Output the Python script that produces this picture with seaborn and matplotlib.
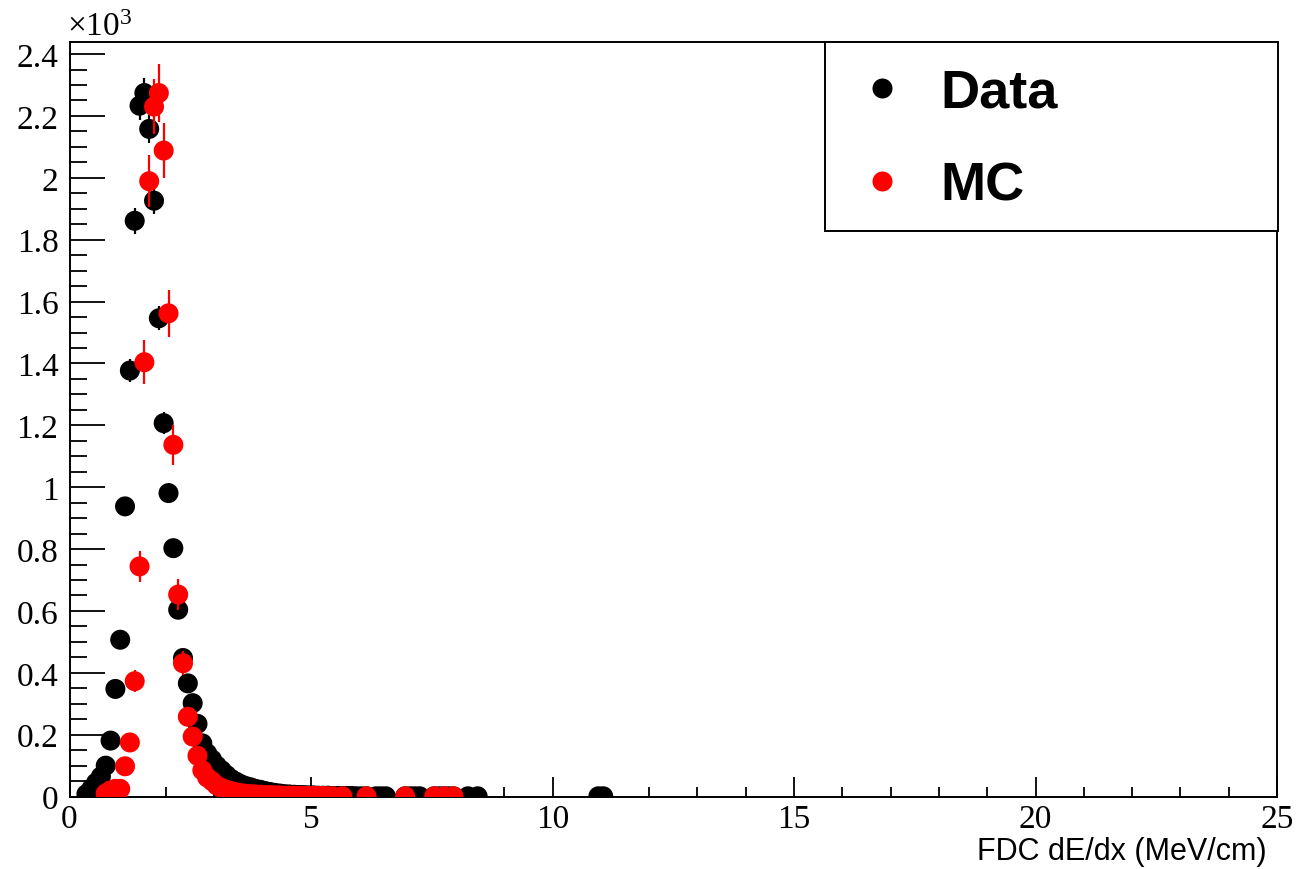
import numpy as np
import pandas as pd
import matplotlib
matplotlib.use("Agg")
import matplotlib.pyplot as plt
from matplotlib.ticker import MultipleLocator, FuncFormatter
from matplotlib.patches import Rectangle
from matplotlib.lines import Line2D
import seaborn as sns

# ---------------- data (counts in units of 10^3) ----------------
data_x = [0.35, 0.45, 0.55, 0.65, 0.75, 0.85, 0.95, 1.05, 1.15, 1.25,
          1.35, 1.45, 1.55, 1.65, 1.75, 1.85, 1.95, 2.05, 2.15, 2.25,
          2.35, 2.45, 2.55, 2.65, 2.75, 2.85, 2.95, 3.05, 3.15, 3.25,
          3.35, 3.45, 3.55, 3.65, 3.75, 3.85, 3.95, 4.05, 4.15, 4.25,
          4.35, 4.45, 4.55, 4.65, 4.75, 4.85, 4.95, 5.05, 5.15, 5.25,
          5.35, 5.45, 5.55, 5.65, 5.75, 5.85, 5.95, 6.05, 6.15,
          6.35, 6.45, 6.55, 6.95, 7.05, 7.15, 7.25,
          7.55, 7.65, 7.75, 7.85, 7.95, 8.25, 8.45, 10.95, 11.05]
data_y = [0.008, 0.025, 0.045, 0.065, 0.100, 0.181, 0.348, 0.507, 0.938, 1.377,
          1.861, 2.233, 2.274, 2.158, 1.926, 1.546, 1.207, 0.981, 0.803, 0.604,
          0.448, 0.366, 0.302, 0.235, 0.172, 0.140, 0.120, 0.100, 0.085, 0.070,
          0.057, 0.048, 0.040, 0.034, 0.030, 0.025, 0.022, 0.018, 0.015, 0.012,
          0.010, 0.008, 0.007, 0.006, 0.005, 0.005, 0.004, 0.004, 0.003, 0.003,
          0.003, 0.002, 0.002, 0.002, 0.002, 0.002, 0.001, 0.001, 0.001,
          0.001, 0.001, 0.001, 0.001, 0.001, 0.001, 0.001,
          0.001, 0.001, 0.001, 0.001, 0.001, 0.001, 0.001, 0.001, 0.001]
data_err = [0.003, 0.005, 0.007, 0.008, 0.010, 0.013, 0.019, 0.023, 0.031, 0.037,
            0.043, 0.047, 0.048, 0.046, 0.044, 0.039, 0.035, 0.031, 0.028, 0.025,
            0.021, 0.019, 0.017, 0.015, 0.013, 0.012, 0.011, 0.010, 0.009, 0.008,
            0.008, 0.007, 0.006, 0.006, 0.005, 0.005, 0.005, 0.004, 0.004, 0.003,
            0.003, 0.003, 0.003, 0.002, 0.002, 0.002, 0.002, 0.002, 0.002, 0.002,
            0.002, 0.001, 0.001, 0.001, 0.001, 0.001, 0.001, 0.001, 0.001,
            0.001, 0.001, 0.001, 0.001, 0.001, 0.001, 0.001,
            0.001, 0.001, 0.001, 0.001, 0.001, 0.001, 0.001, 0.001, 0.001]

mc_x = [0.75, 0.85, 0.95, 1.05, 1.15, 1.25, 1.35, 1.45, 1.55, 1.65,
        1.75, 1.85, 1.95, 2.05, 2.15, 2.25, 2.35, 2.45, 2.55, 2.65,
        2.75, 2.85, 2.95, 3.05, 3.15, 3.25, 3.35, 3.45, 3.55, 3.65,
        3.75, 3.85, 3.95, 4.05, 4.15, 4.25, 4.35, 4.45, 4.55, 4.65,
        4.75, 4.85, 4.95, 5.05, 5.15, 5.25, 5.35, 5.45,
        5.65, 6.15, 6.95, 7.55, 7.75, 7.95]
mc_y = [0.010, 0.020, 0.025, 0.025, 0.098, 0.175, 0.373, 0.744, 1.404, 1.989,
        2.230, 2.274, 2.088, 1.562, 1.137, 0.653, 0.431, 0.258, 0.194, 0.132,
        0.085, 0.062, 0.050, 0.036, 0.028, 0.022, 0.018, 0.014, 0.011, 0.009,
        0.008, 0.007, 0.006, 0.005, 0.005, 0.004, 0.004, 0.003, 0.003, 0.003,
        0.002, 0.002, 0.002, 0.002, 0.002, 0.002, 0.001, 0.001,
        0.001, 0.001, 0.001, 0.001, 0.001, 0.001]
mc_err = [0.006, 0.008, 0.009, 0.009, 0.019, 0.025, 0.035, 0.051, 0.071, 0.084,
          0.090, 0.094, 0.088, 0.075, 0.064, 0.049, 0.039, 0.030, 0.026, 0.022,
          0.017, 0.015, 0.013, 0.011, 0.010, 0.009, 0.008, 0.007, 0.006, 0.006,
          0.005, 0.005, 0.005, 0.004, 0.004, 0.004, 0.004, 0.003, 0.003, 0.003,
          0.003, 0.003, 0.003, 0.003, 0.003, 0.003, 0.002, 0.002,
          0.002, 0.002, 0.002, 0.002, 0.002, 0.002]

series_names = ["Data", "MC"]
series_colors = ["black", "red"]
x_label = "FDC dE/dx (MeV/cm)"
y_multiplier = r"$\mathregular{\times10^{3}}$"

# ---------------- style ----------------
sns.set_theme(style="white")
plt.rcParams["font.family"] = ["Liberation Serif", "DejaVu Serif"]
plt.rcParams["mathtext.fontset"] = "custom"
plt.rcParams["mathtext.rm"] = "Liberation Serif"
plt.rcParams["text.color"] = "black"

W, H = 1301, 870
fig = plt.figure(figsize=(W / 100, H / 100), dpi=100)
left_px, right_px, top_px, bot_px = 69.5, 1277, 43, 797.6
ax = fig.add_axes([left_px / W, (H - bot_px) / H,
                   (right_px - left_px) / W, (bot_px - top_px) / H])

df_data = pd.DataFrame({"x": data_x, "y": data_y, "err": data_err})
df_mc = pd.DataFrame({"x": mc_x, "y": mc_y, "err": mc_err})

msize = 14.4
for df, name, col, z in [(df_data, series_names[0], series_colors[0], 3),
                         (df_mc, series_names[1], series_colors[1], 5)]:
    ax.errorbar(df["x"], df["y"], yerr=df["err"], fmt="none",
                ecolor=col, elinewidth=1.6, capsize=0, zorder=z)
    sns.scatterplot(data=df, x="x", y="y", color=col, s=msize ** 2,
                    edgecolor="none", linewidth=0, ax=ax, zorder=z + 1,
                    legend=False)

ax.set_xlim(0, 25)
ax.set_ylim(0, (bot_px - top_px) / 309.4)
ax.set_xlabel("")
ax.set_ylabel("")

ax.xaxis.set_major_locator(MultipleLocator(5))
ax.xaxis.set_minor_locator(MultipleLocator(1))
ax.yaxis.set_major_locator(MultipleLocator(0.2))
ax.yaxis.set_minor_locator(MultipleLocator(0.05))
ax.yaxis.set_major_formatter(FuncFormatter(lambda v, p: f"{round(v, 3):g}"))
ax.xaxis.set_major_formatter(FuncFormatter(lambda v, p: f"{round(v, 3):g}"))

ax.tick_params(axis="both", which="both", direction="in", top=False,
               right=False, left=True, bottom=True, color="black",
               width=1.3, labelsize=24, labelcolor="black")
ax.tick_params(axis="y", which="major", length=25, pad=8)
ax.tick_params(axis="y", which="minor", length=12.5)
ax.tick_params(axis="x", which="major", length=14.5, pad=5)
ax.tick_params(axis="x", which="minor", length=7.5)
for s in ax.spines.values():
    s.set_visible(True)
    s.set_color("black")
    s.set_linewidth(1.4)

fig.text(67 / W, (H - 36) / H, y_multiplier, fontsize=24, ha="left",
         va="baseline", color="black",
         family=["Liberation Serif", "DejaVu Serif"])
fig.text(1267 / W, (H - 852) / H, x_label, fontsize=22, ha="right",
         va="center", color="black",
         family=["Liberation Sans", "DejaVu Sans"])

# legend box
lx0 = (825 - left_px) / (right_px - left_px)
ly0 = (bot_px - 232) / (bot_px - top_px)
ax.add_patch(Rectangle((lx0, ly0), (1278 - 825) / (right_px - left_px),
                       1 - ly0, transform=ax.transAxes, fill=True,
                       facecolor="white", edgecolor="black", linewidth=1.4,
                       clip_on=False, zorder=10))
handles = [Line2D([], [], linestyle="none", marker="o", markersize=msize,
                  color=c, markeredgewidth=0) for c in series_colors]
leg = ax.legend(handles, series_names, loc="upper left",
                bbox_to_anchor=((854.7 - left_px) / (right_px - left_px),
                                (bot_px - 69) / (bot_px - top_px)),
                frameon=False, borderpad=0, borderaxespad=0,
                handlelength=1.0, handletextpad=0.58, labelspacing=0.79,
                labelcolor="black",
                prop={"family": ["Liberation Sans", "DejaVu Sans"],
                      "weight": "bold", "size": 39})
leg.set_zorder(11)

fig.savefig("out.png", dpi=100)
